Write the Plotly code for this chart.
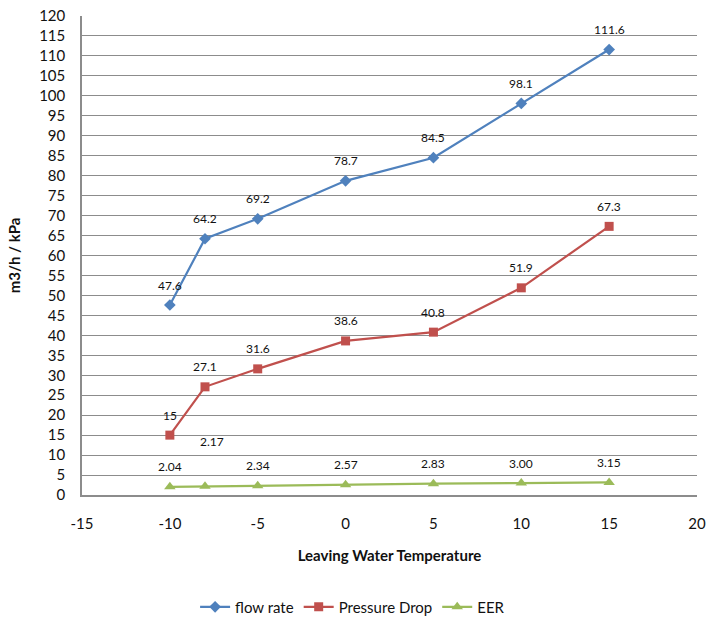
import plotly.graph_objects as go

temps = [-10, -8, -5, 0, 5, 10, 15]
flow_rate = [47.6, 64.2, 69.2, 78.7, 84.5, 98.1, 111.6]
pressure_drop = [15, 27.1, 31.6, 38.6, 40.8, 51.9, 67.3]
eer = [2.04, 2.17, 2.34, 2.57, 2.83, 3.00, 3.15]
eer_labels = ["2.04", "2.17", "2.34", "2.57", "2.83", "3.00", "3.15"]
x_ticks = [-15, -10, -5, 0, 5, 10, 15, 20]
x_tick_labels = ["-15", "-10", "-5", "0", "5", "10", "15", "20"]

blue = "#4F81BD"
red = "#C0504D"
green = "#9BBB59"
font = "Lato, 'Open Sans', sans-serif"

fig = go.Figure()
fig.add_trace(go.Scatter(x=temps, y=flow_rate, name="flow rate", mode="lines+markers",
                         line=dict(color=blue, width=2.2),
                         marker=dict(symbol="diamond", size=9, color=blue)))
fig.add_trace(go.Scatter(x=temps, y=pressure_drop, name="Pressure Drop", mode="lines+markers",
                         line=dict(color=red, width=2.2),
                         marker=dict(symbol="square", size=9, color=red)))
fig.add_trace(go.Scatter(x=temps, y=eer, name="EER", mode="lines+markers",
                         line=dict(color=green, width=2.2),
                         marker=dict(symbol="triangle-up", size=10, color=green)))

ann = []
for xs, ys in [(temps, flow_rate), (temps, pressure_drop)]:
    for x, y in zip(xs, ys):
        ann.append(dict(x=x, y=y, text=f"{y:g}", showarrow=False, yshift=20,
                        font=dict(size=12, color="#111", family=font)))
for i, (x, y) in enumerate(zip(temps, eer)):
    ys = 20
    if i == 1:
        ys = 45
    ann.append(dict(x=x, y=y, text=eer_labels[i], showarrow=False, yshift=ys,
                    xshift=7 if i == 1 else 0,
                    font=dict(size=12, color="#111", family=font)))

fig.update_layout(
    width=706, height=619,
    margin=dict(l=82, r=9, t=16, b=124, autoexpand=False),
    paper_bgcolor="white", plot_bgcolor="white",
    font=dict(family=font, size=15, color="#111"),
    annotations=ann,
    showlegend=True,
    legend=dict(orientation="h", x=0.44, xanchor="center", y=-0.234, yanchor="middle",
                font=dict(size=15, family=font), itemwidth=30),
    xaxis=dict(range=[-15, 20], tickvals=x_ticks, ticktext=x_tick_labels, showgrid=False,
               showline=True, linecolor="#8c8c8c", linewidth=1.5, automargin=False,
               zeroline=False, ticks="", ticklabelstandoff=14, ticklabeloverflow="allow",
               title=dict(text="<b>Leaving Water Temperature</b>", font=dict(size=15), standoff=20)),
    yaxis=dict(range=[0, 120], tick0=0, dtick=5, showgrid=True, gridcolor="#8c8c8c",
               gridwidth=1, showline=True, linecolor="#8c8c8c", linewidth=1.5, automargin=False,
               zeroline=False, ticks="", ticklabelstandoff=12, ticklabeloverflow="allow",
               title=dict(text="<b>m3/h / kPa</b>", font=dict(size=15), standoff=15)),
)

fig.write_html("out.html", config={"displayModeBar": False},
               post_script="document.body.style.margin='0';document.body.style.overflow='hidden';")
